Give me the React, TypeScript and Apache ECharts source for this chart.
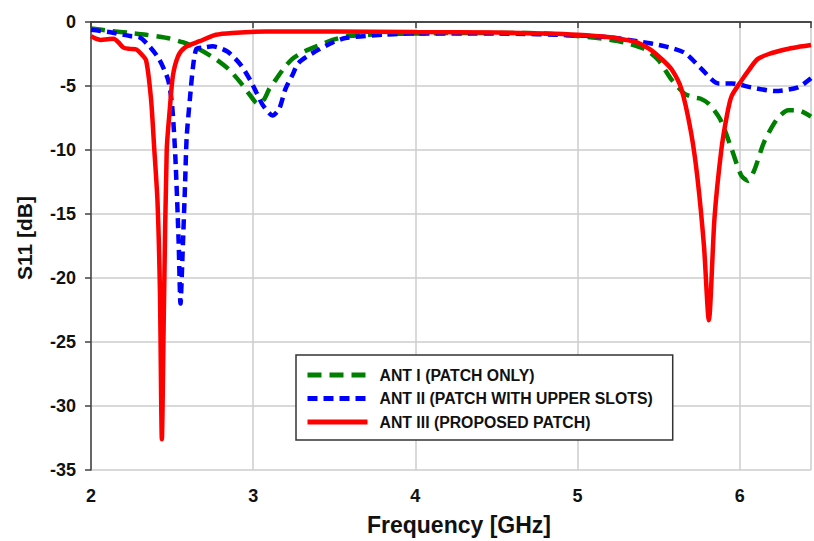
import React, { useEffect, useRef } from "react";
import * as echarts from "echarts";

const ant1Freq = [2.0, 2.12, 2.24, 2.34, 2.47, 2.57, 2.67, 2.77, 2.85, 2.92, 2.98, 3.03, 3.07, 3.1, 3.14, 3.19, 3.24, 3.3, 3.37, 3.49, 3.59, 3.8, 4.0, 4.4, 4.68, 5.0, 5.15, 5.29, 5.42, 5.5, 5.58, 5.66, 5.72, 5.76, 5.81, 5.88, 5.95, 6.01, 6.05, 6.09, 6.15, 6.23, 6.3, 6.36, 6.44];
const ant1S11 = [-0.5, -0.7, -0.85, -1.0, -1.25, -1.6, -2.15, -2.9, -3.7, -4.7, -5.7, -6.4, -6.0, -5.2, -4.5, -3.6, -2.9, -2.4, -2.0, -1.4, -1.1, -0.95, -0.9, -0.85, -0.85, -1.1, -1.3, -1.6, -2.15, -3.0, -4.5, -5.6, -5.9, -6.0, -6.4, -7.6, -9.9, -12.0, -12.4, -11.6, -9.4, -7.6, -6.9, -6.9, -7.4];

const ant2Freq = [2.0, 2.06, 2.12, 2.24, 2.3, 2.36, 2.42, 2.475, 2.5, 2.52, 2.54, 2.552, 2.565, 2.58, 2.59, 2.61, 2.63, 2.65, 2.69, 2.75, 2.84, 2.92, 2.98, 3.02, 3.06, 3.12, 3.16, 3.2, 3.24, 3.28, 3.37, 3.49, 3.57, 3.8, 4.0, 4.5, 5.0, 5.2, 5.37, 5.54, 5.66, 5.76, 5.87, 5.95, 6.07, 6.22, 6.36, 6.44];
const ant2S11 = [-0.6, -0.7, -0.8, -1.1, -1.2, -1.9, -2.9, -4.5, -6.5, -10.5, -17, -22, -18, -12.7, -9, -6, -3.4, -2.1, -2.0, -1.9, -2.3, -3.3, -4.5, -5.5, -6.5, -7.3, -6.8, -5.2, -4.2, -3.2, -2.4, -1.6, -1.25, -1.0, -0.9, -0.9, -1.05, -1.2, -1.5, -1.9, -2.4, -3.6, -4.8, -4.8, -5.1, -5.4, -5.1, -4.4];

const ant3Freq = [2.0, 2.03, 2.06, 2.1, 2.14, 2.17, 2.2, 2.24, 2.28, 2.31, 2.34, 2.37, 2.39, 2.41, 2.425, 2.437, 2.45, 2.467, 2.486, 2.505, 2.536, 2.578, 2.67, 2.77, 2.87, 3.08, 3.5, 4.0, 4.5, 4.8, 5.0, 5.2, 5.3, 5.37, 5.45, 5.52, 5.58, 5.64, 5.7, 5.74, 5.78, 5.81, 5.845, 5.886, 5.92, 5.95, 6.01, 6.06, 6.11, 6.18, 6.28, 6.36, 6.44];
const ant3S11 = [-1.1, -1.3, -1.4, -1.35, -1.3, -1.6, -2.0, -2.1, -2.15, -2.5, -3.0, -6.0, -9.9, -14, -21, -32.6, -22, -10, -6.8, -4.2, -2.7, -2.0, -1.5, -1.0, -0.85, -0.75, -0.75, -0.78, -0.82, -0.9, -1.0, -1.2, -1.4, -1.6, -2.15, -2.9, -3.7, -5.2, -8.6, -12.2, -17.5, -23.3, -15.3, -10.1, -7.4, -5.8, -4.6, -3.7, -2.9, -2.5, -2.15, -1.95, -1.8];

const seriesNames = ["ANT I (PATCH ONLY)", "ANT II (PATCH WITH UPPER SLOTS)", "ANT III (PROPOSED PATCH)"];
const xTicks = [2, 3, 4, 5, 6];

const pairs = (xs: number[], ys: number[]) => xs.map((x, i) => [x, ys[i]]);

export default function App() {
  const ref = useRef<HTMLDivElement>(null);
  useEffect(() => {
    if (!ref.current) return;
    const chart = echarts.init(ref.current, null, { renderer: "svg" });
    const font = "'Liberation Sans', Arial, sans-serif";
    const axisLineColor = "#404040";
    chart.setOption({
      animation: false,
      backgroundColor: "#fff",
      grid: { left: 91, top: 22, right: 1, bottom: 67 },
      legend: {
        orient: "vertical",
        left: 296,
        top: 355,
        padding: [12, 20, 10, 9],
        itemWidth: 60,
        itemHeight: 14,
        itemGap: 7.5,
        borderColor: "#333",
        borderWidth: 1.5,
        backgroundColor: "#fff",
        data: seriesNames,
        itemStyle: { opacity: 0, borderWidth: 0 },
        lineStyle: { width: 5 },
        textStyle: { fontFamily: font, fontWeight: "bold", fontSize: 15.8, color: "#111", padding: [0, 0, 0, 7] },
      },
      xAxis: [
        {
          type: "value",
          min: 2,
          max: 6.44,
          interval: 1,
          name: "Frequency [GHz]",
          nameLocation: "middle",
          nameGap: 43,
          nameTextStyle: { fontFamily: font, fontWeight: "bold", fontSize: 23, color: "#111", padding: [0, 0, 0, 16] },
          axisLine: { lineStyle: { color: axisLineColor, width: 1.5 } },
          axisTick: { show: true, inside: false, length: 6, lineStyle: { color: axisLineColor, width: 1.5 } },
          axisLabel: {
            margin: 17,
            fontFamily: font,
            fontWeight: "bold",
            fontSize: 18,
            color: "#111",
            formatter: (v: number) => (xTicks.includes(v) ? String(v) : ""),
          },
          splitLine: { show: true, lineStyle: { color: "#cccccc", width: 1.5 } },
        },
        {
          type: "value",
          position: "top",
          min: 2,
          max: 6.44,
          axisLine: { show: true, lineStyle: { color: axisLineColor, width: 1.5 } },
          axisTick: { show: false },
          axisLabel: { show: false },
          splitLine: { show: false },
        },
      ],
      yAxis: {
        type: "value",
        min: -35,
        max: 0,
        interval: 5,
        name: "S11 [dB]",
        nameLocation: "middle",
        nameGap: 56,
        nameRotate: 90,
        nameTextStyle: { fontFamily: font, fontWeight: "bold", fontSize: 21, color: "#111", padding: [0, 0, 0, 16] },
        axisLine: { show: true, lineStyle: { color: axisLineColor, width: 1.5 } },
        axisTick: { show: true, length: 6, lineStyle: { color: axisLineColor, width: 1.5 } },
        axisLabel: { margin: 15, fontFamily: font, fontWeight: "bold", fontSize: 18, color: "#111" },
        splitLine: { show: true, lineStyle: { color: "#cccccc", width: 1.5 } },
      },
      series: [
        {
          name: seriesNames[0],
          type: "line",
          data: pairs(ant1Freq, ant1S11),
          symbol: "none",
          smooth: 0.25,
          lineStyle: { color: "#008000", width: 4.5, type: [14, 8] },
          itemStyle: { color: "#008000" },
          z: 2,
        },
        {
          name: seriesNames[1],
          type: "line",
          data: pairs(ant2Freq, ant2S11),
          symbol: "none",
          smooth: 0.25,
          lineStyle: { color: "#0000ff", width: 4.5, type: [10, 6] },
          itemStyle: { color: "#0000ff" },
          z: 3,
        },
        {
          name: seriesNames[2],
          type: "line",
          data: pairs(ant3Freq, ant3S11),
          symbol: "none",
          smooth: 0.25,
          lineStyle: { color: "#ff0000", width: 4.5 },
          itemStyle: { color: "#ff0000" },
          z: 4,
        },
      ],
    });
    return () => chart.dispose();
  }, []);
  return <div ref={ref} style={{ position: "fixed", left: 0, top: 0, width: 814, height: 541 }} />;
}
